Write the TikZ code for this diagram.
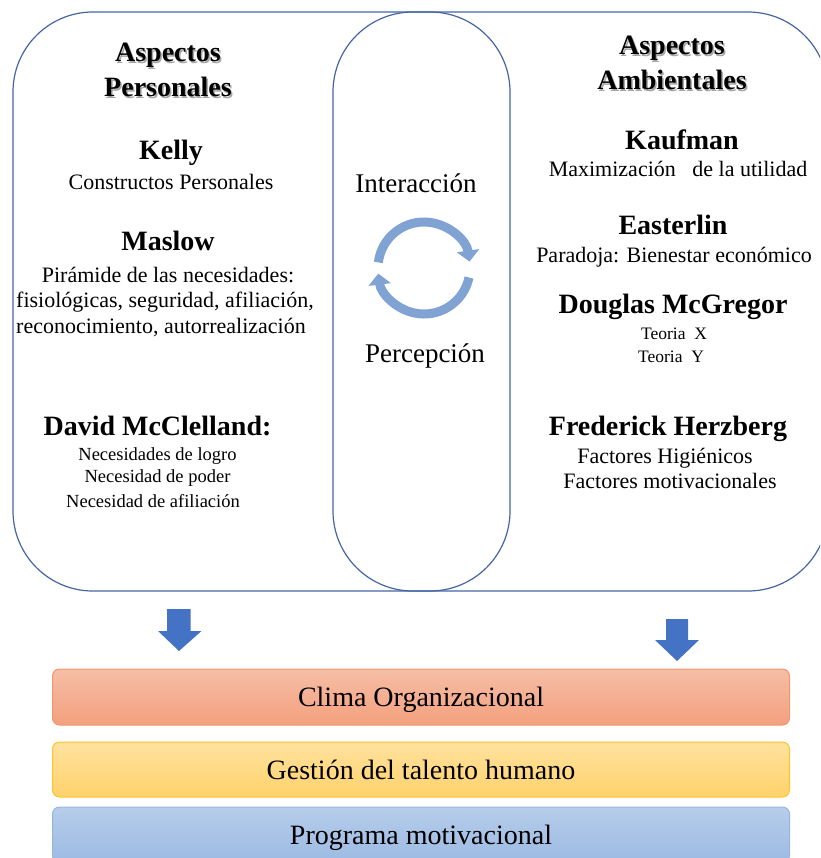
\documentclass[tikz,border=0pt]{standalone}
\usepackage{fontspec}
\setmainfont{Liberation Serif}
\usetikzlibrary{arrows.meta}
\definecolor{outl}{RGB}{68,100,165}
\definecolor{cyc}{RGB}{128,163,212}
\definecolor{barrow}{RGB}{68,114,196}
\definecolor{climatop}{RGB}{246,190,166}
\definecolor{climabot}{RGB}{243,160,126}
\definecolor{climaline}{RGB}{241,150,110}
\definecolor{gesttop}{RGB}{255,226,160}
\definecolor{gestbot}{RGB}{255,210,106}
\definecolor{gestline}{RGB}{255,196,40}
\definecolor{progtop}{RGB}{182,205,234}
\definecolor{progbot}{RGB}{156,186,227}
\definecolor{progline}{RGB}{150,182,224}
\begin{document}
\begin{tikzpicture}[x=1pt,y=-1pt,
  outline/.style={draw=outl,line width=1.2pt,rounded corners=80pt},
  headtxt/.style={anchor=base,inner sep=0pt,font=\fontsize{28}{32}\selectfont\bfseries},
  shadowtxt/.style={anchor=base,inner sep=0pt,font=\fontsize{28}{32}\selectfont\bfseries,text=black!35},
  bodytxt/.style={anchor=base,inner sep=0pt,font=\fontsize{22}{26}\selectfont},
  smalltxt/.style={anchor=base,inner sep=0pt,font=\fontsize{18.5}{22}\selectfont},
  tinytxt/.style={anchor=base,inner sep=0pt,font=\fontsize{17.5}{21}\selectfont},
  midtxt/.style={anchor=base,inner sep=0pt,font=\fontsize{27}{31}\selectfont},
  cyclearrow/.style={draw=cyc,line width=9pt,-{Triangle[length=11pt,width=22pt]}},
  blockarrow/.style={fill=barrow},
  bar/.style={rectangle,rounded corners=7pt,line width=1pt,minimum width=737pt,
    text height=19pt,text depth=0pt,font=\fontsize{28}{32}\selectfont}
]
\useasboundingbox (0,0) rectangle (820,858);
\clip (0,0) rectangle (820,858);

% big outlines
\draw[outline] (13,12) rectangle (510,591);
\draw[outline] (333,12) rectangle (828,591);

% left column
\node[shadowtxt] (lsh1) at (169.5,63.5) {Aspectos};
\node[shadowtxt] (lsh2) at (169.5,98.5) {Personales};
\node[headtxt] (lh1) at (168,62) {Aspectos};
\node[headtxt] (lh2) at (168,97) {Personales};
\node[headtxt] (kelly) at (171,160) {Kelly};
\node[bodytxt] (kellyb) at (171,190) {Constructos Personales};
\node[headtxt] (maslow) at (168,251) {Maslow};
\node[bodytxt] (maslowa) at (168,282) {Pirámide de las necesidades:};
\node[bodytxt] (maslowb) at (165,307) {fisiológicas, seguridad, afiliación,};
\node[bodytxt] (maslowc) at (161,333) {reconocimiento, autorrealización};
\node[headtxt] (mcc) at (157.5,435) {David McClelland:};
\node[smalltxt] (mcca) at (157.5,460) {Necesidades de logro};
\node[smalltxt] (mccb) at (157.5,482) {Necesidad de poder};
\node[smalltxt] (mccc) at (153,507) {Necesidad de afiliación};

% middle
\node[midtxt] (inter) at (416,193) {Interacción};
\node[midtxt] (perc) at (425,362) {Percepción};
\coordinate (cc) at (424,268);
\draw[cyclearrow] (cc) ++(-173:46) arc[start angle=-173,end angle=-8,radius=46];
\draw[cyclearrow] (cc) ++(12:46) arc[start angle=12,end angle=173,radius=46];

% right column
\node[shadowtxt] (rsh1) at (673.5,56.5) {Aspectos};
\node[shadowtxt] (rsh2) at (673.5,91.5) {Ambientales};
\node[headtxt] (rh1) at (672,55) {Aspectos};
\node[headtxt] (rh2) at (672,90) {Ambientales};
\node[headtxt] (kauf) at (682,150) {Kaufman};
\node[bodytxt] (kaufb) at (678,177) {Maximización \ \ de la utilidad};
\node[headtxt] (east) at (673,235) {Easterlin};
\node[bodytxt] (eastb) at (674,263) {Paradoja: Bienestar económico};
\node[headtxt] (doug) at (673,313) {Douglas McGregor};
\node[tinytxt] (dougx) at (674,339) {Teoria \ X};
\node[tinytxt] (dougy) at (671,362) {Teoria \ Y};
\node[headtxt] (fred) at (668,435) {Frederick Herzberg};
\node[bodytxt] (freda) at (665,463) {Factores Higiénicos};
\node[bodytxt] (fredb) at (670,488) {Factores motivacionales};

% block arrows
\fill[blockarrow] (167,609) -- (190.5,609) -- (190.5,631) -- (201.5,631) -- (179,651) -- (158,631) -- (167,631) -- cycle;
\fill[blockarrow] (666,619) -- (688,619) -- (688,640) -- (699,640) -- (677,661) -- (655,640) -- (666,640) -- cycle;

% bars
\node[bar,draw=climaline,top color=climatop,bottom color=climabot,minimum height=56pt] (clima) at (421,697) {Clima Organizacional};
\node[bar,draw=gestline,top color=gesttop,bottom color=gestbot,minimum height=55pt] (gest) at (421,769.5) {Gestión del talento humano};
\node[bar,draw=progline,top color=progtop,bottom color=progbot,minimum height=56pt] (prog) at (421,835) {Programa motivacional};
\end{tikzpicture}
\end{document}
